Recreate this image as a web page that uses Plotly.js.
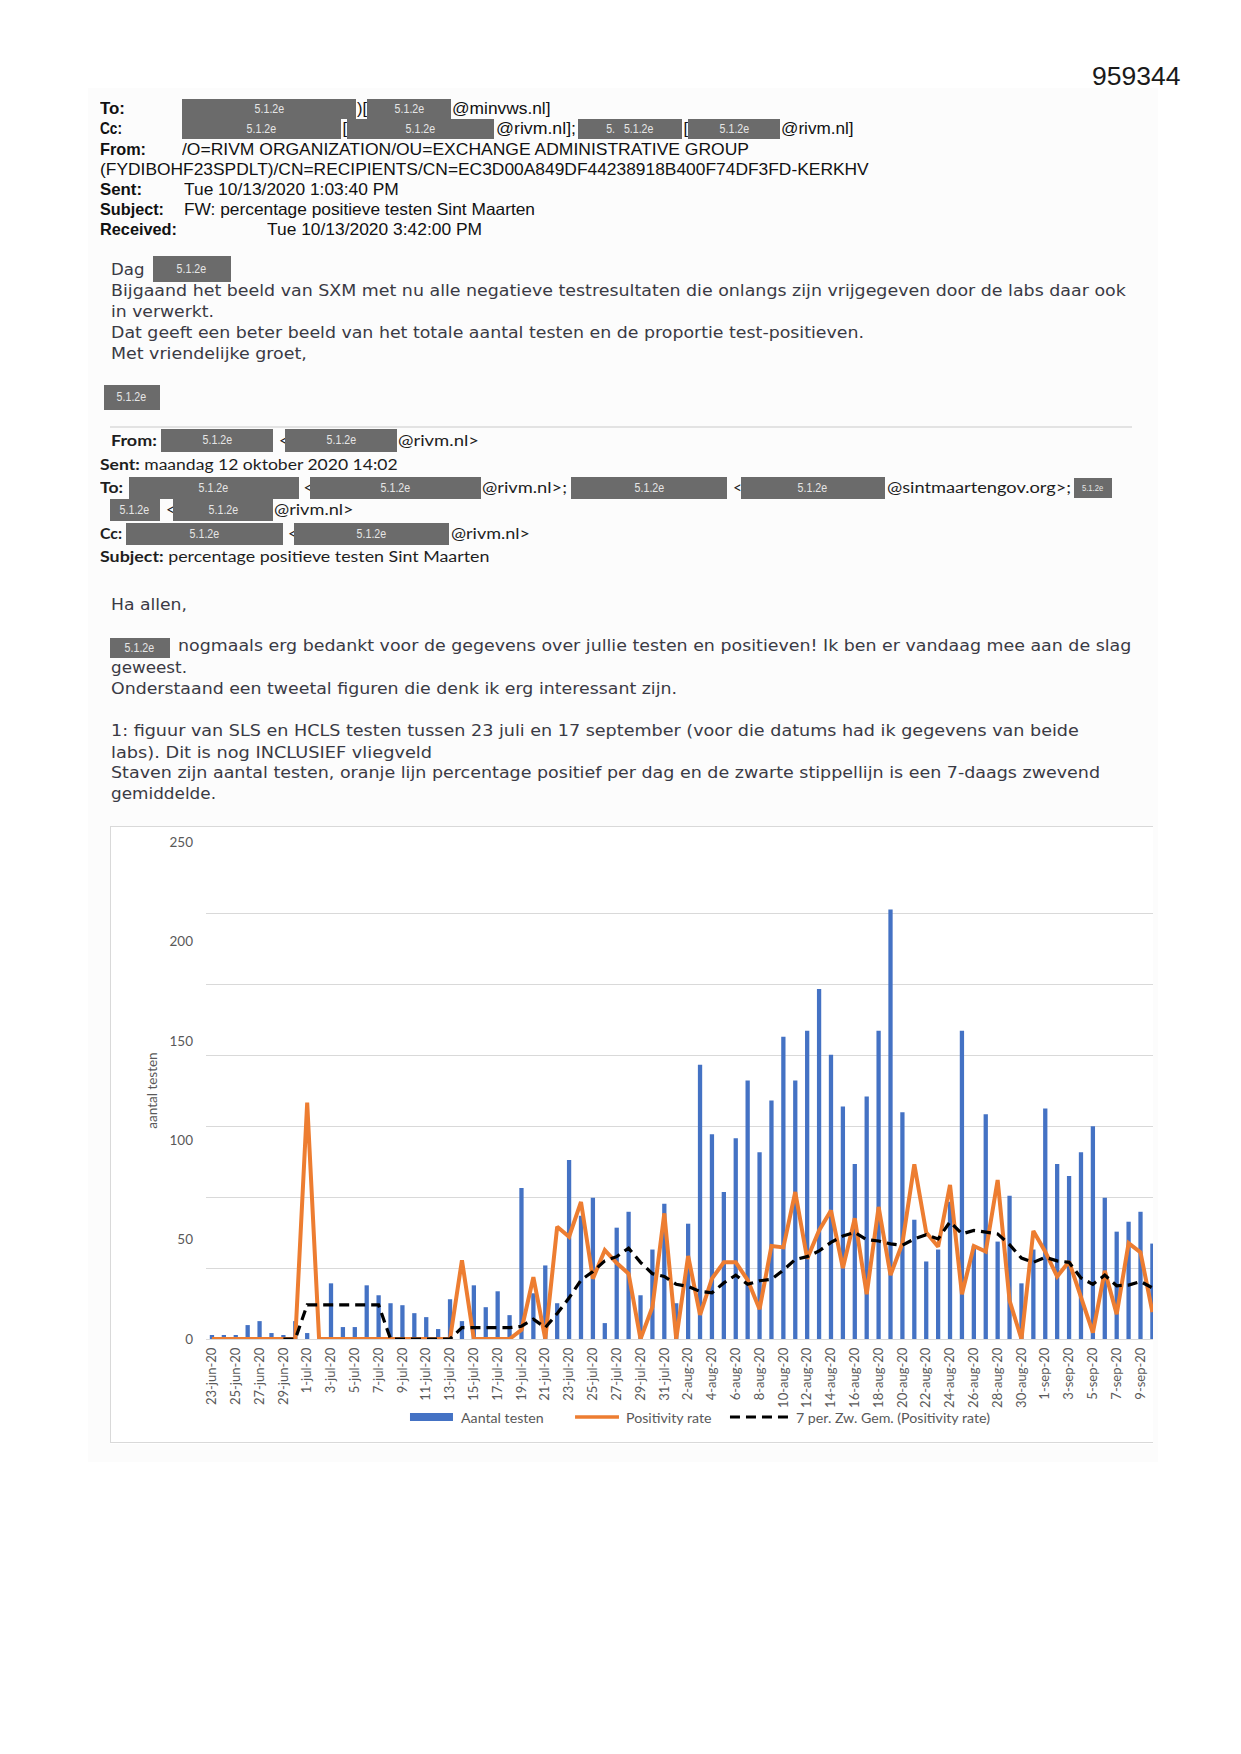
<!DOCTYPE html>
<html><head><meta charset="utf-8">
<script src="https://cdn.plot.ly/plotly-3.0.1.min.js"></script>
<style>
html,body{margin:0;padding:0}
body{width:1241px;height:1754px;position:relative;background:#fff;overflow:hidden}
.t{position:absolute;white-space:pre;line-height:1;transform-origin:0 50%}
.a{font-family:"Liberation Sans",Arial,sans-serif;font-size:16.5px;color:#111}
.n{font-family:"Liberation Sans",Arial,sans-serif;font-size:26px;color:#1a1a1a}
.v{font-family:"DejaVu Sans",Verdana,sans-serif;font-size:15px;color:#3a3a44}
.c{font-family:Lato,"Open Sans",sans-serif;font-size:15.5px;color:#1e1e1e}
.b{font-weight:bold}
.r{position:absolute;background:#6b6b6b;display:flex;align-items:center;justify-content:center;overflow:hidden}
.r span{font-family:"Liberation Sans",Arial,sans-serif;font-size:12.5px;color:#e6e6e6;white-space:pre;display:inline-block;transform:scaleX(0.85)}
#bg{position:absolute;left:88px;top:88px;width:1070px;height:1374px;background:#fcfcfc}
#chart{position:absolute;left:110px;top:826px;width:1043px;height:618px}
#frame{position:absolute;left:110px;top:826px;width:1043px;height:617px;border:1px solid #d9d9d9;border-right:none;pointer-events:none;box-sizing:border-box}
#sep{position:absolute;left:110px;top:426px;width:1022px;height:2px;background:#e3e3e3}
</style></head>
<body>
<div id="bg"></div>
<div id="sep"></div>
<div id="chart"></div>
<div id="frame"></div>
<script>
// ---------- chart data ----------
const dates = ["23-jun-20","24-jun-20","25-jun-20","26-jun-20","27-jun-20","28-jun-20","29-jun-20","30-jun-20",
"1-jul-20","2-jul-20","3-jul-20","4-jul-20","5-jul-20","6-jul-20","7-jul-20","8-jul-20","9-jul-20","10-jul-20",
"11-jul-20","12-jul-20","13-jul-20","14-jul-20","15-jul-20","16-jul-20","17-jul-20","18-jul-20","19-jul-20","20-jul-20",
"21-jul-20","22-jul-20","23-jul-20","24-jul-20","25-jul-20","26-jul-20","27-jul-20","28-jul-20","29-jul-20","30-jul-20","31-jul-20",
"1-aug-20","2-aug-20","3-aug-20","4-aug-20","5-aug-20","6-aug-20","7-aug-20","8-aug-20","9-aug-20","10-aug-20",
"11-aug-20","12-aug-20","13-aug-20","14-aug-20","15-aug-20","16-aug-20","17-aug-20","18-aug-20","19-aug-20","20-aug-20",
"21-aug-20","22-aug-20","23-aug-20","24-aug-20","25-aug-20","26-aug-20","27-aug-20","28-aug-20","29-aug-20","30-aug-20","31-aug-20",
"1-sep-20","2-sep-20","3-sep-20","4-sep-20","5-sep-20","6-sep-20","7-sep-20","8-sep-20","9-sep-20","10-sep-20"];

const aantalTesten = [2,2,2,7,9,3,2,9,
3,0,28,6,6,27,22,18,17,13,11,5,20,9,27,16,24,12,76,23,37,18,90,62,71,8,56,64,22,45,68,
18,58,138,103,74,101,130,94,120,152,130,155,176,143,117,88,122,155,216,114,60,39,45,69,155,47,113,49,72,28,45,
116,88,82,94,107,71,54,59,64,48];

const positivityRate = [0,0,0,0,0,0,0,0,
33.3,0,0,0,0,0,0,0,0,0,0,0,0,11.1,0,0,0,0,1.3,8.7,0,15.8,14.4,19.3,8.5,12.5,10.7,9.2,0,4.5,17.7,
0,11.7,3.4,8.5,10.8,10.8,8.3,4.2,13.1,12.9,20.7,11.3,15.3,18.1,10.0,17.0,6.3,18.6,9.0,13.5,24.6,15.0,13.0,21.7,6.3,13.1,12.3,22.4,5.4,0,15.2,
12.3,8.8,10.9,6.0,0.9,9.6,3.5,13.5,12.2,3.8];

const zwevendGemiddelde = [null,null,null,null,null,null,0,0,
4.8,4.8,4.8,4.8,4.8,4.8,4.8,0,0,0,0,0,0,1.6,1.6,1.6,1.6,1.6,1.8,2.8,1.6,3.6,5.8,8.3,9.5,11.0,11.6,12.8,10.8,9.2,8.8,
7.7,7.4,6.7,6.5,7.9,9.0,7.7,8.2,8.4,9.7,11.2,11.6,12.4,13.6,14.5,15.0,14.0,13.8,13.4,13.2,14.1,14.7,14.1,16.5,14.8,15.3,15.1,14.8,13.3,11.4,10.8,
11.5,11.0,10.8,8.6,7.7,9.0,7.5,7.6,8.1,7.2];

const yTicks = [0,50,100,150,200,250];
const tickLabels = dates.filter((d,i)=>i%2===0);
const legendNames = ["Aantal testen","Positivity rate","7 per. Zw. Gem. (Positivity rate)"];

// ---------- chart ----------
const grey = '#595959';
const traces = [
 {type:'bar', x:dates, y:aantalTesten, yaxis:'y', marker:{color:'#4472C4'}, width:0.36, name:legendNames[0]},
 {type:'scatter', mode:'lines', x:dates, y:positivityRate, yaxis:'y2', line:{color:'#ED7D31', width:4}, name:legendNames[1]},
 {type:'scatter', mode:'lines', x:dates, y:zwevendGemiddelde, yaxis:'y2', line:{color:'#000', width:3.2, dash:'10px,6px'}, name:legendNames[2]}
];
const layout = {
 width:1043, height:618,
 margin:{l:96, r:0, t:16, b:105},
 paper_bgcolor:'#fff', plot_bgcolor:'#fff',
 showlegend:false,
 font:{family:'Lato, sans-serif', color:grey},
 xaxis:{type:'category', categoryarray:dates, range:[-0.5,79.05], tickmode:'array', tickvals:tickLabels,
   tickangle:-90, tickfont:{size:13, color:grey}, showgrid:false, showline:false, zeroline:false, ticks:'', ticklabelstandoff:5},
 yaxis:{range:[0,250], tickmode:'array', tickvals:yTicks, showgrid:false, zeroline:false, showline:false, ticks:'',
   tickfont:{size:13.5, color:grey}, ticklabelstandoff:12,
   title:{text:'aantal testen', font:{size:13.5, color:grey}, standoff:8}},
 yaxis2:{overlaying:'y', side:'right', range:[0,70], dtick:10, showgrid:true, gridcolor:'#d9d9d9', gridwidth:1,
   zeroline:true, zerolinecolor:'#d9d9d9', zerolinewidth:1, showticklabels:false, ticks:'', showline:false},
 shapes:[
  {type:'rect', xref:'paper', yref:'paper', x0:0.2154, x1:0.2608, y0:-0.165, y1:-0.149, fillcolor:'#4472C4', line:{width:0}},
  {type:'line', xref:'paper', yref:'paper', x0:0.3897, x1:0.4361, y0:-0.157, y1:-0.157, line:{color:'#ED7D31', width:3.5}},
  {type:'line', xref:'paper', yref:'paper', x0:0.5533, x1:0.619, y0:-0.157, y1:-0.157, line:{color:'#000', width:3, dash:'10px,6px'}}
 ],
 annotations:[
  {xref:'paper', yref:'paper', x:0.2672, y:-0.157, xanchor:'left', yanchor:'middle', showarrow:false, text:legendNames[0], font:{size:14.2, color:grey}},
  {xref:'paper', yref:'paper', x:0.4414, y:-0.157, xanchor:'left', yanchor:'middle', showarrow:false, text:legendNames[1], font:{size:14.2, color:grey}},
  {xref:'paper', yref:'paper', x:0.621, y:-0.157, xanchor:'left', yanchor:'middle', showarrow:false, text:legendNames[2], font:{size:14.2, color:grey}}
 ]
};
Plotly.newPlot('chart', traces, layout, {staticPlot:true, displayModeBar:false});

// ---------- page text ----------
function T(cls, x, y, html, w){
  const e = document.createElement('div');
  e.className = 't ' + cls;
  e.innerHTML = html;
  document.body.appendChild(e);
  const fs = parseFloat(getComputedStyle(e).fontSize);
  e.style.left = x + 'px';
  e.style.top = (y - 0.5*fs) + 'px';
  if (w) { const cw = e.getBoundingClientRect().width; if (cw>0) e.style.transform = 'scaleX(' + (w/cw) + ')'; }
}
function R(x1, y1, x2, y2, label, fs){
  const e = document.createElement('div');
  e.className = 'r';
  e.style.left = x1+'px'; e.style.top = y1+'px'; e.style.width = (x2-x1)+'px'; e.style.height = (y2-y1)+'px';
  e.innerHTML = '<span' + (fs ? ' style="font-size:'+fs+'px"' : '') + '>' + label + '</span>';
  document.body.appendChild(e);
}
const L = '5.1.2e';
// document number
T('n', 1092, 75.5, '959344', 88.5);
// header 1
T('a b', 99.6, 108.5, 'To:', 25);
R(182,98.5,356,118.6,L); T('a', 357, 108.5, ')['); R(367,98.5,451,118.6,L); T('a', 452, 108.5, '@minvws.nl]', 98.5);
T('a b', 99.6, 128.7, 'Cc:', 22);
R(182,118.6,341,138.7,L); T('a', 342.5, 128.7, '['); R(347,118.6,494,138.7,L); T('a', 495.7, 128.7, '@rivm.nl];', 80);
R(578,118.6,682,138.7,'5.   5.1.2e'); T('a', 683.5, 128.7, '['); R(688,118.6,780,138.7,L); T('a', 780.5, 128.7, '@rivm.nl]', 72.6);
T('a b', 99.6, 148.8, 'From:', 46);
T('a', 182.4, 148.8, '/O=RIVM ORGANIZATION/OU=EXCHANGE ADMINISTRATIVE GROUP', 567);
T('a', 99.6, 169, '(FYDIBOHF23SPDLT)/CN=RECIPIENTS/CN=EC3D00A849DF44238918B400F74DF3FD-KERKHV', 768.7);
T('a b', 99.6, 189, 'Sent:', 42); T('a', 183.5, 189, 'Tue 10/13/2020 1:03:40 PM', 214.8);
T('a b', 99.6, 209, 'Subject:', 64); T('a', 183.5, 209, 'FW: percentage positieve testen Sint Maarten', 351);
T('a b', 99.6, 229.4, 'Received:', 77); T('a', 267.4, 229.4, 'Tue 10/13/2020 3:42:00 PM', 215);
// body 1
T('v', 110.8, 270.5, 'Dag', 33.5); R(153,256,230.5,282,L);
T('v', 110.8, 291, 'Bijgaand het beeld van SXM met nu alle negatieve testresultaten die onlangs zijn vrijgegeven door de labs daar ook', 1014.8);
T('v', 110.8, 312, 'in verwerkt.', 103);
T('v', 110.8, 333.4, 'Dat geeft een beter beeld van het totale aantal testen en de proportie test-positieven.', 753);
T('v', 110.8, 354.7, 'Met vriendelijke groet,', 195.8);
R(104,385,159.5,409.5,L);
// header 2
T('c b', 110.8, 440.8, 'From:', 45.8);
R(161,428.5,273,452,L); T('c', 279, 440.8, '<'); R(285,428.5,397,452,L); T('c', 398, 440.8, '@rivm.nl>', 81);
T('c', 99.6, 464.3, '<b>Sent:</b> maandag 12 oktober 2020 14:02', 297.6);
T('c b', 99.6, 487.8, 'To:', 23);
R(128.7,476.6,298.7,499,L); T('c', 303.5, 487.8, '<'); R(310,476.6,481,499,L); T('c', 482, 487.8, '@rivm.nl>;', 85);
R(570.6,476.6,727.3,499,L); T('c', 733, 487.8, '<'); R(740.7,476.6,885,499,L); T('c', 887, 487.8, '@sintmaartengov.org>;', 184);
R(1074,477.8,1112,498,L,9);
R(109.7,499,160,521.4,L); T('c', 166, 510, '<'); R(173.4,499,273,521.4,L); T('c', 274, 510, '@rivm.nl>', 79.6);
T('c b', 99.6, 533.7, 'Cc:', 22);
R(126.4,522.5,283,545,L); T('c', 288, 533.7, '<'); R(294,522.5,448.7,545,L); T('c', 451, 533.7, '@rivm.nl>', 79);
T('c', 99.6, 557.2, '<b>Subject:</b> percentage positieve testen Sint Maarten', 389.4);
// body 2
T('v', 110.8, 605.3, 'Ha allen,', 76);
R(109.7,637.8,170,658,L);
T('v', 177.9, 646.7, 'nogmaals erg bedankt voor de gegevens over jullie testen en positieven! Ik ben er vandaag mee aan de slag', 953.3);
T('v', 110.8, 668, 'geweest.', 76);
T('v', 110.8, 689.3, 'Onderstaand een tweetal figuren die denk ik erg interessant zijn.', 566);
T('v', 110.8, 731.8, '1: figuur van SLS en HCLS testen tussen 23 juli en 17 september (voor die datums had ik gegevens van beide', 967.8);
T('v', 110.8, 753, 'labs). Dit is nog INCLUSIEF vliegveld', 321);
T('v', 110.8, 773.2, 'Staven zijn aantal testen, oranje lijn percentage positief per dag en de zwarte stippellijn is een 7-daags zwevend', 989);
T('v', 110.8, 794.4, 'gemiddelde.', 105);
</script>
</body></html>
